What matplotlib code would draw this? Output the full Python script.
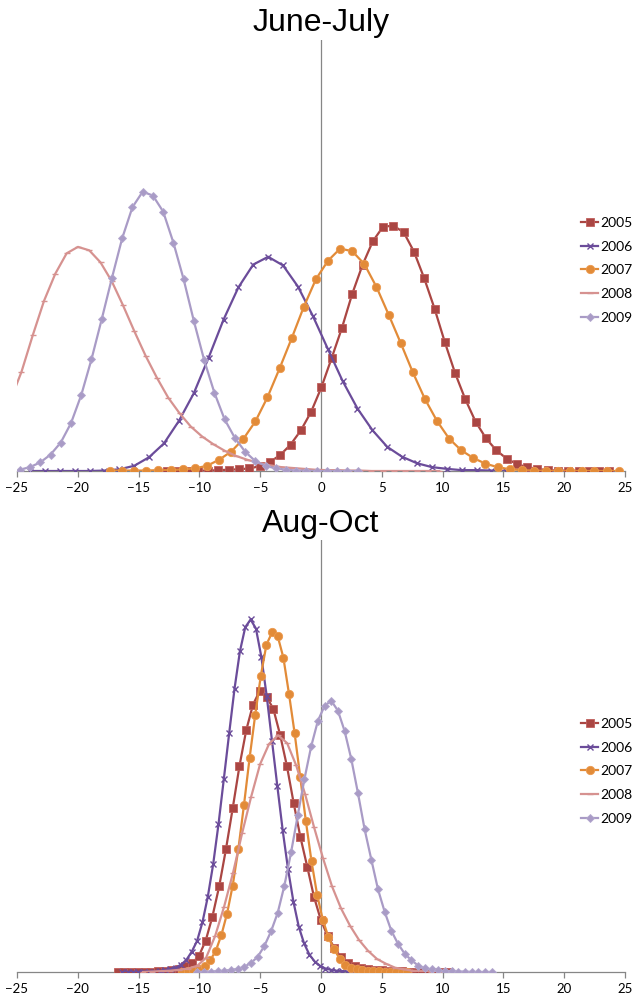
import numpy as np
import matplotlib.pyplot as plt

years = ['2005', '2006', '2007', '2008', '2009']
colors = ['#AA4643', '#6B4C9A', '#E28B38', '#D69290', '#A99BC6']
edge_colors = ['#C0605C', '#6B4C9A', '#EC9A4E', '#D69290', '#B3A7CE']
markers = ['s', 'x', 'o', '_', 'D']
marker_sizes = [5.6, 4.8, 6.0, 4.8, 4.0]

# June-July: first x, x step and curve heights (share of frequency, %)
jj_start = [-12.66, -23.93, -17.35, -25.56, -24.77]
jj_step = [0.846, 1.224, 0.996, 0.9285, 0.842]
jj_2005 = [0.00, 0.00, 0.01, 0.01, 0.01, 0.02, 0.03, 0.04, 0.06, 0.11,
           0.21, 0.37, 0.61, 0.94, 1.37, 1.94, 2.62, 3.32, 4.11, 4.78,
           5.33, 5.67, 5.69, 5.54, 5.09, 4.47, 3.77, 2.99, 2.27, 1.66,
           1.14, 0.76, 0.48, 0.29, 0.16, 0.09, 0.05, 0.02, 0.01, 0.01,
           0.00, 0.00, 0.00, 0.00]
jj_2006 = [0.00, 0.00, 0.00, 0.00, 0.00, 0.01, 0.04, 0.12, 0.32, 0.64,
           1.16, 1.80, 2.63, 3.51, 4.26, 4.79, 4.97, 4.77, 4.28, 3.60,
           2.84, 2.09, 1.45, 0.95, 0.56, 0.33, 0.18, 0.09, 0.05, 0.02,
           0.02, 0.01, 0.00]
jj_2007 = [0.01, 0.01, 0.01, 0.01, 0.02, 0.02, 0.04, 0.06, 0.12, 0.26,
           0.45, 0.74, 1.15, 1.71, 2.38, 3.08, 3.81, 4.45, 4.88, 5.16,
           5.10, 4.80, 4.27, 3.63, 2.97, 2.29, 1.67, 1.16, 0.75, 0.48,
           0.30, 0.17, 0.09, 0.04, 0.02, 0.01, 0.00, 0.00, 0.00, 0.00,
           0.00, 0.00, 0.00]
jj_2008 = [1.63, 2.30, 3.15, 3.95, 4.58, 5.05, 5.20, 5.12, 4.84, 4.40,
           3.84, 3.24, 2.67, 2.16, 1.70, 1.34, 1.03, 0.80, 0.62, 0.47,
           0.35, 0.26, 0.19, 0.13, 0.09, 0.07, 0.05, 0.03, 0.02, 0.02,
           0.01, 0.01, 0.00, 0.00, 0.00, 0.00, 0.00, 0.00, 0.00]
jj_2009 = [0.03, 0.09, 0.20, 0.38, 0.66, 1.11, 1.76, 2.59, 3.52, 4.48,
           5.40, 6.12, 6.48, 6.39, 6.02, 5.30, 4.45, 3.48, 2.58, 1.82,
           1.20, 0.77, 0.45, 0.23, 0.12, 0.06, 0.03, 0.01, 0.01, 0.00,
           0.00, 0.00, 0.00, 0.00]

# Aug-Oct
ao_start = [-16.73, -16.35, -11.43, -14.63, -10.16]
ao_step = [0.557, 0.44, 0.463, 0.74, 0.55]
ao_2005 = [0.00, 0.00, 0.00, 0.00, 0.01, 0.01, 0.02, 0.03, 0.05, 0.08,
           0.13, 0.20, 0.37, 0.72, 1.28, 1.98, 2.84, 3.79, 4.77, 5.60,
           6.19, 6.51, 6.37, 6.09, 5.49, 4.77, 3.91, 3.12, 2.44, 1.74,
           1.21, 0.84, 0.56, 0.34, 0.20, 0.13, 0.09, 0.07, 0.05, 0.04,
           0.03, 0.02, 0.02, 0.01, 0.01, 0.01, 0.01, 0.00, 0.00, 0.00]
ao_2006 = [0.00, 0.00, 0.00, 0.00, 0.01, 0.01, 0.01, 0.02, 0.04, 0.07,
           0.10, 0.17, 0.28, 0.47, 0.72, 1.15, 1.74, 2.49, 3.42, 4.47,
           5.53, 6.56, 7.42, 7.98, 8.16, 7.95, 7.30, 6.40, 5.35, 4.30,
           3.28, 2.38, 1.63, 1.05, 0.66, 0.40, 0.24, 0.14, 0.08, 0.05,
           0.03, 0.02, 0.01, 0.00]
ao_2007 = [0.01, 0.02, 0.05, 0.08, 0.14, 0.27, 0.49, 0.86, 1.35, 2.00,
           2.84, 3.86, 4.95, 5.95, 6.86, 7.58, 7.86, 7.77, 7.28, 6.44,
           5.53, 4.51, 3.49, 2.56, 1.79, 1.21, 0.81, 0.53, 0.31, 0.17,
           0.09, 0.07, 0.05, 0.03, 0.03, 0.02, 0.01, 0.01, 0.01, 0.00,
           0.00]
ao_2008 = [0.00, 0.01, 0.02, 0.03, 0.05, 0.08, 0.14, 0.33, 0.83, 1.51,
           2.30, 3.21, 4.05, 4.81, 5.28, 5.48, 5.30, 4.79, 4.12, 3.35,
           2.63, 1.98, 1.47, 1.07, 0.74, 0.49, 0.30, 0.19, 0.10, 0.06,
           0.03, 0.02, 0.01, 0.01, 0.00]
ao_2009 = [0.00, 0.01, 0.01, 0.02, 0.03, 0.05, 0.07, 0.12, 0.21, 0.35,
           0.60, 0.94, 1.37, 2.00, 2.77, 3.63, 4.47, 5.22, 5.81, 6.16,
           6.28, 6.05, 5.58, 4.93, 4.14, 3.30, 2.60, 1.91, 1.39, 0.95,
           0.65, 0.42, 0.27, 0.15, 0.09, 0.06, 0.04, 0.02, 0.02, 0.01,
           0.01, 0.00, 0.00, 0.00, 0.00]

x_ticks = list(range(-25, 26, 5))

W, H = 632, 1002
fig = plt.figure(figsize=(W / 100, H / 100), dpi=100)

AXIS_GREY = '#868686'


def draw_panel(ax, title, title_base, starts, steps, curves, legend_top):
    for i, y in enumerate(curves):
        x = starts[i] + steps[i] * np.arange(len(y))
        ax.plot(x, y, color=colors[i], lw=1.6, marker=markers[i],
                ms=marker_sizes[i], mfc=colors[i], mec=edge_colors[i],
                mew=1.0 if markers[i] in ('x', '_') else 0.6,
                label=years[i], zorder=3 + i)
    ax.set_xlim(-25, 25)
    ax.set_ylim(0, 10)
    for side in ('top', 'right', 'left'):
        ax.spines[side].set_visible(False)
    ax.spines['bottom'].set_color(AXIS_GREY)
    ax.spines['bottom'].set_linewidth(0.9)
    ax.axvline(0, color=AXIS_GREY, lw=0.9, zorder=1)
    ax.set_xticks(x_ticks)
    ax.set_yticks([])
    ax.tick_params(axis='x', direction='out', length=4, width=0.9,
                   color=AXIS_GREY, labelsize=9.5, pad=4)
    for lab in ax.get_xticklabels():
        lab.set_family('Lato')
    fig.text(321 / W, 1 - title_base / H, title, ha='center', va='baseline',
             fontsize=23, family='Liberation Sans')
    ax.legend(loc='upper left', bbox_to_anchor=(581 / W, 1 - legend_top / H),
              bbox_transform=fig.transFigure, frameon=False,
              borderpad=0, borderaxespad=0, handlelength=1.25,
              handletextpad=0.15, labelspacing=0.84,
              prop={'family': 'Lato', 'size': 10})


ax_top = fig.add_axes([17 / W, 531 / H, 608 / W, 431 / H])
ax_bot = fig.add_axes([17 / W, 30 / H, 608 / W, 432 / H])

draw_panel(ax_top, 'June-July', 31, jj_start, jj_step,
           [jj_2005, jj_2006, jj_2007, jj_2008, jj_2009], 217)
draw_panel(ax_bot, 'Aug-Oct', 532, ao_start, ao_step,
           [ao_2005, ao_2006, ao_2007, ao_2008, ao_2009], 718)

fig.savefig('out.png', dpi=100)
